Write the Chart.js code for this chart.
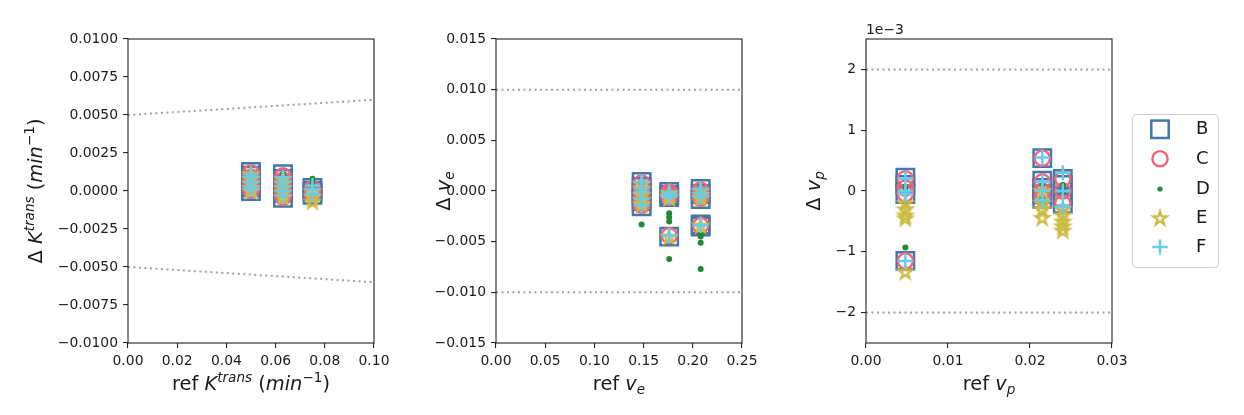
<!DOCTYPE html>
<html><head><meta charset="utf-8">
<script src="https://cdn.jsdelivr.net/npm/chart.js@4.4.1/dist/chart.umd.min.js"></script>
<style>
html,body{margin:0;padding:0;background:#fff;width:1244px;height:415px;overflow:hidden}
canvas{position:absolute;left:0;top:0}
</style></head><body>
<canvas id="c1" width="1244" height="415"></canvas>
<canvas id="c2" width="1244" height="415"></canvas>
<canvas id="c3" width="1244" height="415"></canvas>
<script>
// ---------------- DATA ----------------
const seriesNames = ['B', 'C', 'D', 'E', 'F'];

// Panel 1: K^trans
const ktransRef = [0.05, 0.063, 0.075];
const ktransB = [[0.00125, 0.001, 0.00075, 0.0005, 0.00025, 0.0], [0.0011, 0.0008, 0.0005, 0.0002, -0.0001, -0.00045], [0.0002, 0.0, -0.00025]];
const ktransC = [[0.0012, 0.0009, 0.0006, 0.0003, 0.0001, 0.00005], [0.001, 0.0007, 0.0004, 0.0001, -0.0002, -0.0004], [0.00015, -0.0001, -0.0002]];
const ktransD = [[0.0011, 0.0007, 0.0004, 0.0002, 0.0], [0.0011, 0.0006, 0.0002, -0.0002], [0.0008, 0.0005, 0.0002]];
const ktransE = [[0.0011, 0.0008, 0.0005, 0.0002, 0.0], [0.0008, 0.0005, 0.0002, -0.0001, -0.0004], [0.0, -0.0004, -0.0007]];
const ktransF = [[0.0011, 0.0009, 0.0006, 0.0003, 0.0001], [0.0009, 0.0006, 0.0003, 0.0, -0.0003], [0.00035, 0.0001, -0.0002]];
const ktransLimitX = [0, 0.1];
const ktransUpper = [0.005, 0.006];
const ktransLower = [-0.005, -0.006];
const ktransXTicks = [0, 0.02, 0.04, 0.06, 0.08, 0.1];
const ktransXLabels = ['0.00', '0.02', '0.04', '0.06', '0.08', '0.10'];
const ktransYTicks = [-0.01, -0.0075, -0.005, -0.0025, 0, 0.0025, 0.005, 0.0075, 0.01];
const ktransYLabels = ['\u22120.0100', '\u22120.0075', '\u22120.0050', '\u22120.0025', '0.0000', '0.0025', '0.0050', '0.0075', '0.0100'];

// Panel 2: v_e
const veRef = [0.148, 0.176, 0.208];
const veB = [[0.0009, 0.0004, -0.0001, -0.0006, -0.001, -0.0015], [-0.0001, -0.0004, -0.0006, -0.0045], [0.0002, -0.0003, -0.0008, -0.0033, -0.0035]];
const veC = [[0.0008, 0.0003, -0.0002, -0.0007, -0.0012, -0.0014], [-0.0001, -0.0004, -0.0006, -0.0044], [0.0001, -0.0003, -0.0007, -0.0034]];
const veD = [[0.0006, 0.0, -0.0009, -0.0033], [-0.0022, -0.0026, -0.003, -0.0067], [-0.0043, -0.0045, -0.0051, -0.0077]];
const veE = [[0.0007, 0.0002, -0.0004, -0.0009, -0.0013], [-0.0002, -0.0005, -0.0007, -0.0045], [0.0, -0.0004, -0.0007, -0.0034]];
const veF = [[0.0009, 0.0003, -0.0001, -0.0008, -0.0014], [-0.0001, -0.0004, -0.0006, -0.0044], [0.0002, -0.0002, -0.0006, -0.0034]];
const veLimitX = [0, 0.25];
const veUpper = [0.01, 0.01];
const veLower = [-0.01, -0.01];
const veXTicks = [0, 0.05, 0.1, 0.15, 0.2, 0.25];
const veXLabels = ['0.00', '0.05', '0.10', '0.15', '0.20', '0.25'];
const veYTicks = [-0.015, -0.01, -0.005, 0, 0.005, 0.01, 0.015];
const veYLabels = ['\u22120.015', '\u22120.010', '\u22120.005', '0.000', '0.005', '0.010', '0.015'];

// Panel 3: v_p
const vpRef = [0.0048, 0.0215, 0.024];
const vpB = [[0.00022, 0.0001, -0.00005, -0.00115], [0.00054, 0.00017, 0.00005, -0.00005, -0.00013], [0.0002, 0.0001, -0.0001, -0.00021]];
const vpC = [[0.0002, 0.00005, -0.00005, -0.00115], [0.00054, 0.00015, 0.0, -0.00012], [0.0002, 0.0, -0.0002]];
const vpD = [[0.00005, -0.00093], [0.0001, -0.0001], [0.0001, 0.0]];
const vpE = [[-0.0002, -0.0003, -0.0004, -0.00045, -0.00133], [0.0, -0.0002, -0.0003, -0.00044], [-0.0003, -0.0004, -0.0005, -0.00058, -0.00065]];
const vpF = [[0.0002, 0.0, -0.00005, -0.00115], [0.00055, 0.00015, 0.0, -0.00015], [0.0003, 0.0, -0.00025]];
const vpLimitX = [0, 0.03];
const vpUpper = [0.002, 0.002];
const vpLower = [-0.002, -0.002];
const vpXTicks = [0, 0.01, 0.02, 0.03];
const vpXLabels = ['0.00', '0.01', '0.02', '0.03'];
const vpYTicks = [-0.002, -0.001, 0, 0.001, 0.002];
const vpYLabels = ['\u22122', '\u22121', '0', '1', '2'];

// ---------------- STYLE ----------------
const FONT = '"DejaVu Sans", "Liberation Sans", sans-serif';
const TICK_SIZE = 13.9;
const TITLE_SIZE = 19.4;
const TXT = '#1a1a1a';

function makeStar(color) {
  const c = document.createElement('canvas');
  c.width = c.height = 22;
  const g = c.getContext('2d');
  const R = 7.0, r = R * 0.381966;
  g.beginPath();
  for (let i = 0; i < 10; i++) {
    const a = -Math.PI / 2 + i * Math.PI / 5;
    const rr = (i % 2) ? r : R;
    g.lineTo(11 + rr * Math.cos(a), 11.5 + rr * Math.sin(a));
  }
  g.closePath();
  g.strokeStyle = color;
  g.lineWidth = 2.3;
  g.lineJoin = 'miter';
  g.stroke();
  return c;
}
const starImg = makeStar('#CCBB44');

const seriesStyle = {
  B: { pointStyle: 'rect', pointRadius: 12.3, borderWidth: 2.5, borderColor: '#4477AA', backgroundColor: 'rgba(0,0,0,0)', order: 5 },
  C: { pointStyle: 'circle', pointRadius: 7.6, borderWidth: 2.4, borderColor: '#EE6677', backgroundColor: 'rgba(0,0,0,0)', order: 4 },
  D: { pointStyle: 'circle', pointRadius: 3, borderWidth: 0, borderColor: '#228833', backgroundColor: '#228833', order: 3 },
  E: { pointStyle: starImg, pointRadius: 8, borderWidth: 0, borderColor: '#CCBB44', backgroundColor: '#CCBB44', order: 2 },
  F: { pointStyle: 'cross', pointRadius: 7.6, borderWidth: 2.5, borderColor: '#66CCEE', backgroundColor: '#66CCEE', order: 1 }
};

function points(refs, ys) {
  const out = [];
  refs.forEach((x, i) => ys[i].forEach(y => out.push({ x: x, y: y })));
  return out;
}

function drawRich(ctx, segs, x, y, size, rotate) {
  ctx.save();
  ctx.translate(x, y);
  if (rotate) ctx.rotate(-Math.PI / 2);
  const fontFor = s => (s.it ? 'italic ' : '') + ((s.sup || s.sub) ? size * 0.7 : size) + 'px ' + FONT;
  let w = 0;
  segs.forEach(s => { ctx.font = fontFor(s); w += ctx.measureText(s.t).width; });
  let cx = -w / 2;
  ctx.fillStyle = TXT;
  ctx.textBaseline = 'alphabetic';
  ctx.textAlign = 'left';
  segs.forEach(s => {
    ctx.font = fontFor(s);
    const dy = s.sup ? -size * 0.42 : (s.sub ? size * 0.22 : 0);
    ctx.fillText(s.t, cx, dy);
    cx += ctx.measureText(s.t).width;
  });
  ctx.restore();
}

function drawLegend(ctx) {
  const bx = 1132.5, by = 114.5, bw = 86, bh = 153;
  ctx.save();
  ctx.beginPath();
  ctx.roundRect(bx, by, bw, bh, 4);
  ctx.fillStyle = 'rgba(255,255,255,0.8)';
  ctx.fill();
  ctx.strokeStyle = '#d0d0d0';
  ctx.lineWidth = 1;
  ctx.stroke();
  const mx = 1160, ys = [129.3, 158.7, 189.0, 218, 247];
  seriesNames.forEach((n, i) => {
    const st = seriesStyle[n];
    const y = ys[i];
    ctx.beginPath();
    ctx.lineWidth = st.borderWidth;
    ctx.strokeStyle = st.borderColor;
    ctx.fillStyle = st.backgroundColor;
    if (n === 'B') {
      const h = st.pointRadius * Math.SQRT1_2;
      ctx.strokeRect(mx - h, y - h, 2 * h, 2 * h);
    } else if (n === 'C') {
      ctx.arc(mx, y, st.pointRadius, 0, Math.PI * 2); ctx.stroke();
    } else if (n === 'D') {
      ctx.arc(mx, y, 2.6, 0, Math.PI * 2); ctx.fill();
    } else if (n === 'E') {
      ctx.drawImage(starImg, mx - 11, y - 11);
    } else {
      const r = st.pointRadius;
      ctx.moveTo(mx - r, y); ctx.lineTo(mx + r, y);
      ctx.moveTo(mx, y - r); ctx.lineTo(mx, y + r);
      ctx.stroke();
    }
    ctx.fillStyle = TXT;
    ctx.font = '18px ' + FONT;
    ctx.textAlign = 'left';
    ctx.textBaseline = 'middle';
    ctx.fillText(n, 1196, y + 0.5);
  });
  ctx.restore();
}

function makeChart(id, p) {
  const datasets = [];
  datasets.push({ type: 'line', data: p.limX.map((x, i) => ({ x: x, y: p.upper[i] })), showLine: true, pointRadius: 0, borderColor: '#a0a0a0', borderWidth: 2, borderDash: [2, 3.5], borderCapStyle: 'butt', fill: false, order: 6 });
  datasets.push({ type: 'line', data: p.limX.map((x, i) => ({ x: x, y: p.lower[i] })), showLine: true, pointRadius: 0, borderColor: '#a0a0a0', borderWidth: 2, borderDash: [2, 3.5], borderCapStyle: 'butt', fill: false, order: 6 });
  seriesNames.forEach(n => {
    const st = seriesStyle[n];
    datasets.push(Object.assign({ label: n, data: points(p.ref, p.series[n]), pointHoverRadius: st.pointRadius, showLine: false }, st));
  });
  const AXW = 90, AXH = 50;
  const tickFont = { family: FONT, size: TICK_SIZE };
  new Chart(document.getElementById(id), {
    type: 'scatter',
    data: { datasets: datasets },
    options: {
      responsive: false, animation: false, devicePixelRatio: 1, events: [],
      layout: { padding: { left: p.left - AXW, right: 1244 - p.right, top: 39, bottom: 415 - 343 - AXH } },
      plugins: { legend: { display: false }, tooltip: { enabled: false } },
      scales: {
        x: {
          type: 'linear', min: p.xMin, max: p.xMax,
          afterBuildTicks: s => { s.ticks = p.xTicks.map(v => ({ value: v })); },
          afterFit: s => { s.height = AXH; },
          ticks: { callback: (v, i) => p.xLabels[i], font: tickFont, color: TXT, padding: 5, maxRotation: 0, autoSkip: false },
          grid: { display: true, drawOnChartArea: false, drawTicks: true, tickLength: 5, color: '#222', lineWidth: 1.1 },
          border: { display: false }
        },
        y: {
          type: 'linear', min: p.yMin, max: p.yMax,
          afterBuildTicks: s => { s.ticks = p.yTicks.map(v => ({ value: v })); },
          afterFit: s => { s.width = AXW; },
          ticks: { callback: (v, i) => p.yLabels[i], font: tickFont, color: TXT, padding: 5, autoSkip: false },
          grid: { display: true, drawOnChartArea: false, drawTicks: true, tickLength: 5, color: '#222', lineWidth: 1.1 },
          border: { display: false }
        }
      }
    },
    plugins: [{
      id: 'deco' + id,
      afterDraw(chart) {
        const ctx = chart.ctx, a = chart.chartArea;
        ctx.save();
        ctx.strokeStyle = '#222';
        ctx.lineWidth = 1.1;
        ctx.strokeRect(a.left, a.top, a.right - a.left, a.bottom - a.top);
        ctx.restore();
        drawRich(ctx, p.xTitle, (a.left + a.right) / 2, 390, TITLE_SIZE, false);
        drawRich(ctx, p.yTitle, a.left - p.yTitleOff, (a.top + a.bottom) / 2, TITLE_SIZE, true);
        if (p.offsetText) {
          ctx.save();
          ctx.fillStyle = TXT;
          ctx.font = TICK_SIZE + 'px ' + FONT;
          ctx.textAlign = 'left';
          ctx.textBaseline = 'alphabetic';
          ctx.fillText(p.offsetText, a.left, 33.5);
          ctx.restore();
        }
        if (p.legend) drawLegend(ctx);
      }
    }]
  });
}

makeChart('c1', {
  left: 128, right: 374, xMin: 0, xMax: 0.1, yMin: -0.01, yMax: 0.01,
  xTicks: ktransXTicks, xLabels: ktransXLabels, yTicks: ktransYTicks, yLabels: ktransYLabels,
  ref: ktransRef, series: { B: ktransB, C: ktransC, D: ktransD, E: ktransE, F: ktransF },
  limX: ktransLimitX, upper: ktransUpper, lower: ktransLower,
  xTitle: [{ t: 'ref ' }, { t: 'K', it: 1 }, { t: 'trans', it: 1, sup: 1 }, { t: ' (' }, { t: 'min', it: 1 }, { t: '\u22121', sup: 1 }, { t: ')' }],
  yTitle: [{ t: '\u0394 ' }, { t: 'K', it: 1 }, { t: 'trans', it: 1, sup: 1 }, { t: ' (' }, { t: 'min', it: 1 }, { t: '\u22121', sup: 1 }, { t: ')' }],
  yTitleOff: 86
});
makeChart('c2', {
  left: 496, right: 742, xMin: 0, xMax: 0.25, yMin: -0.015, yMax: 0.015,
  xTicks: veXTicks, xLabels: veXLabels, yTicks: veYTicks, yLabels: veYLabels,
  ref: veRef, series: { B: veB, C: veC, D: veD, E: veE, F: veF },
  limX: veLimitX, upper: veUpper, lower: veLower,
  xTitle: [{ t: 'ref ' }, { t: 'v', it: 1 }, { t: 'e', it: 1, sub: 1 }],
  yTitle: [{ t: '\u0394 ' }, { t: 'v', it: 1 }, { t: 'e', it: 1, sub: 1 }],
  yTitleOff: 46
});
makeChart('c3', {
  left: 866, right: 1112, xMin: 0, xMax: 0.03, yMin: -0.0025, yMax: 0.0025,
  xTicks: vpXTicks, xLabels: vpXLabels, yTicks: vpYTicks, yLabels: vpYLabels,
  ref: vpRef, series: { B: vpB, C: vpC, D: vpD, E: vpE, F: vpF },
  limX: vpLimitX, upper: vpUpper, lower: vpLower,
  xTitle: [{ t: 'ref ' }, { t: 'v', it: 1 }, { t: 'p', it: 1, sub: 1 }],
  yTitle: [{ t: '\u0394 ' }, { t: 'v', it: 1 }, { t: 'p', it: 1, sub: 1 }],
  yTitleOff: 46, offsetText: '1e\u22123', legend: true
});
</script></body></html>
